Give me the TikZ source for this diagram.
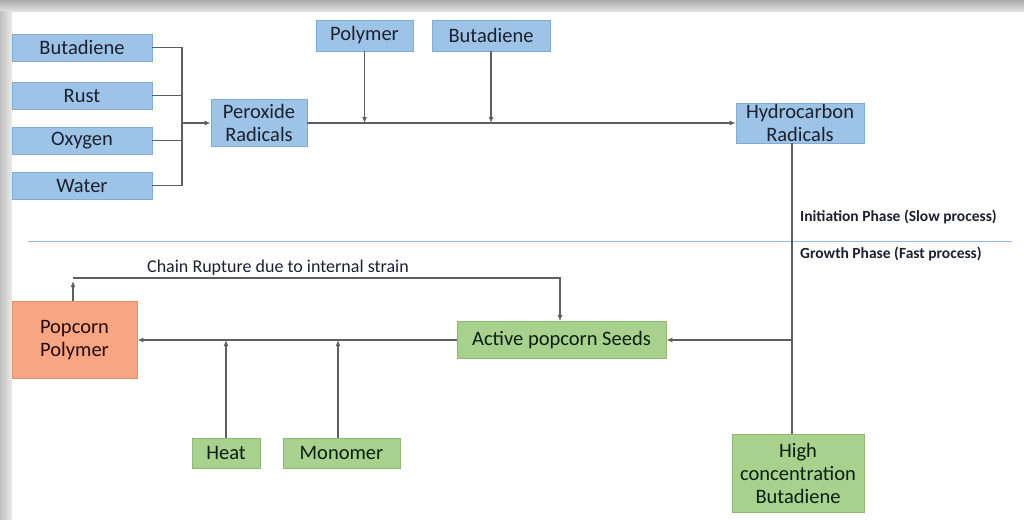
\documentclass[tikz,border=0pt]{standalone}
\usepackage{fontspec}
\setmainfont{Carlito}
\usetikzlibrary{arrows.meta,positioning,calc}
\definecolor{boxblue}{RGB}{157,195,230}
\definecolor{edgeblue}{RGB}{130,170,215}
\definecolor{boxgreen}{RGB}{169,209,142}
\definecolor{edgegreen}{RGB}{140,185,115}
\definecolor{boxorange}{RGB}{246,166,130}
\definecolor{edgeorange}{RGB}{225,145,110}
\definecolor{ink}{RGB}{28,32,48}
\definecolor{wire}{RGB}{95,95,95}
\definecolor{phaseblue}{RGB}{150,185,225}

\tikzset{
  bluebox/.style={draw=edgeblue,fill=boxblue,line width=0.8pt,inner sep=0pt,align=center,text=ink},
  greenbox/.style={draw=edgegreen,fill=boxgreen,line width=0.8pt,inner sep=0pt,align=center,text=ink!80!green!40!black},
  orangebox/.style={draw=edgeorange,fill=boxorange,line width=0.8pt,inner sep=0pt,align=center,text=ink!70!red!40!black},
  wireline/.style={draw=wire,line width=1.4pt},
  phaselabel/.style={anchor=west,inner sep=0pt,text=ink,font=\fontsize{15.5}{18}\selectfont\bfseries}
}

\begin{document}
\begin{tikzpicture}[x=1pt,y=-1pt,>={Latex[length=6pt,width=5pt]},font=\fontsize{20.5}{23}\selectfont]
  \useasboundingbox (0,0) rectangle (1024,519);
  % screenshot frame
  \fill[top color=gray!65,bottom color=gray!20] (0,0) rectangle (1024,12);
  \fill[left color=gray!50,right color=gray!15] (0,12) rectangle (12,519);

  % initiation phase
  \node[bluebox,minimum width=140pt,minimum height=27pt] (b1) at (82,47.5) {Butadiene};
  \node[bluebox,minimum width=140pt,minimum height=27pt] (rust) at (82,95.5) {Rust};
  \node[bluebox,minimum width=140pt,minimum height=27pt] (oxy) at (82,140.5) {Oxygen};
  \node[bluebox,minimum width=140pt,minimum height=27pt] (water) at (82,185.5) {Water};
  \node[bluebox,minimum width=96pt,minimum height=47pt] (pr) at (259,123) {Peroxide\\Radicals};
  \node[bluebox,minimum width=97pt,minimum height=31pt] (poly) at (364.5,35.5) {Polymer};
  \node[bluebox,minimum width=118pt,minimum height=31pt] (b2) at (491,35.5) {Butadiene};
  \node[bluebox,minimum width=128pt,minimum height=40pt] (hc) at (800,123) {Hydrocarbon\\Radicals};

  \coordinate (jn) at (182,123);
  \draw[wireline] (b1) -| (jn);
  \draw[wireline] (rust) -| (jn);
  \draw[wireline] (oxy) -| (jn);
  \draw[wireline] (water) -| (jn);
  \draw[wireline,->] (jn) -- (pr);
  \draw[wireline,->] (pr) -- (hc);
  \draw[wireline,->] (poly) -- (poly |- pr);
  \draw[wireline,->] (b2) -- (b2 |- pr);

  % phase split
  \coordinate (ps1) at (28,241);
  \coordinate (ps2) at (1012,241);
  \draw[phaseblue,line width=1pt] (ps1) -- (ps2);
  \node[phaselabel] (init) at (800,217) {Initiation Phase (Slow process)};
  \node[phaselabel] (grow) at (800,254) {Growth Phase (Fast process)};

  % growth phase
  \node[greenbox,minimum width=209pt,minimum height=37pt] (aps) at (561.5,340) {Active popcorn Seeds};
  \node[orangebox,minimum width=125pt,minimum height=77pt] (pp) at (74.5,340) {Popcorn\\Polymer};
  \node[greenbox,minimum width=68pt,minimum height=30pt] (heat) at (226,453) {Heat};
  \node[greenbox,minimum width=117pt,minimum height=30pt] (mono) at (341.5,453) {Monomer};
  \node[greenbox,minimum width=132pt,minimum height=78pt] (hb) at (798,473) {High\\concentration\\Butadiene};

  \coordinate (tap) at (792,340);
  \draw[wireline] (hc.south -| tap) -- (tap |- hb.north);
  \draw[wireline,->] (tap) -- (aps);
  \draw[wireline,->] (aps) -- (pp);
  \draw[wireline,->] (heat) -- (heat |- pp);
  \coordinate (mj) at (338,340);
  \draw[wireline,->] (mono.north -| mj) -- (mj);

  \coordinate (cr) at (73,278);
  \coordinate (ce) at (560,278);
  \draw[wireline,->] (pp.north -| cr) -- ($(cr)+(0,3)$);
  \draw[wireline,->] (cr) -- (ce) -- (ce |- aps.north);
  \node[anchor=west,inner sep=0pt,text=ink,font=\fontsize{18}{21}\selectfont] (crlab) at (147,268) {Chain Rupture due to internal strain};
\end{tikzpicture}
\end{document}
